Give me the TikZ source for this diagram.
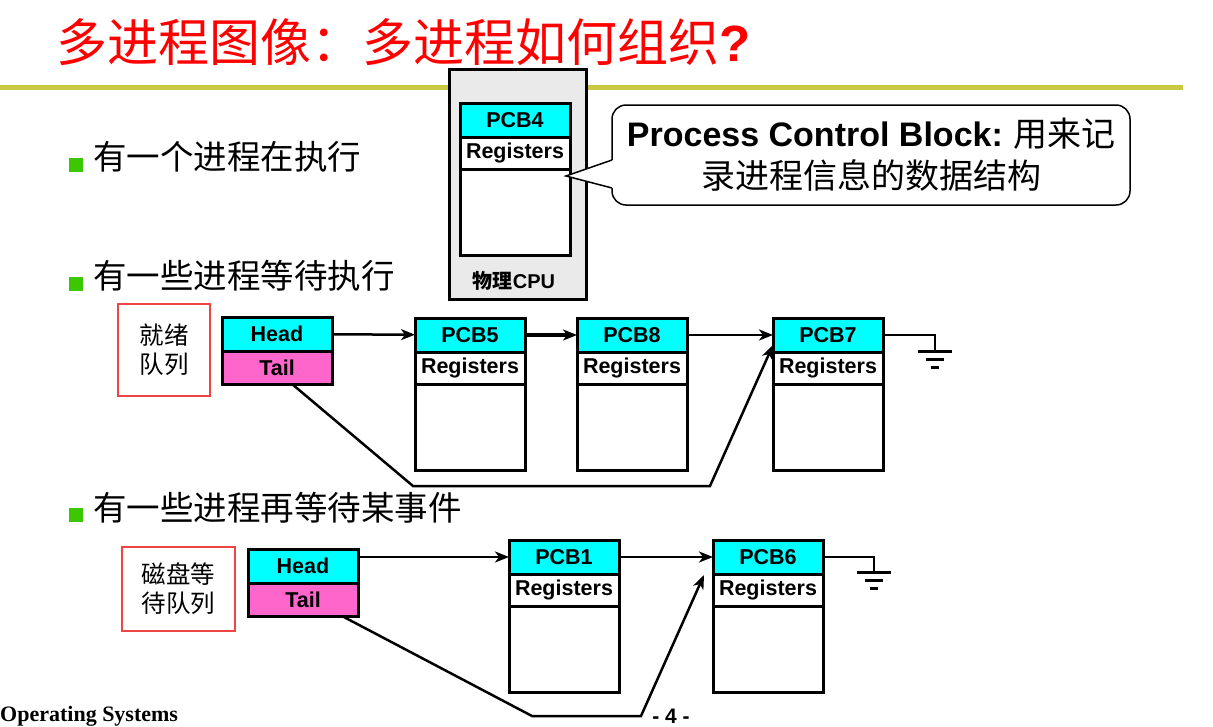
\documentclass[tikz,border=0pt]{standalone}
\usepackage{fontspec}
\usetikzlibrary{positioning,arrows.meta}
\newfontfamily\cjk{Noto Sans CJK SC}
\newfontfamily\pcbfont{Liberation Sans}
\newfontfamily\footfont{Liberation Serif}
\definecolor{pcbcyan}{RGB}{0,255,255}
\definecolor{tailpink}{RGB}{255,102,204}
\definecolor{cpugray}{RGB}{234,234,234}
\definecolor{rulegold}{RGB}{200,200,66}
\definecolor{bulletgreen}{RGB}{60,200,0}
\definecolor{labelred}{RGB}{238,68,68}
\tikzset{
  cell/.style={draw, line width=3pt, outer sep=0pt, inner sep=0pt, minimum width=110pt,
    font=\pcbfont\bfseries\fontsize{21.5}{21.5}\selectfont},
  pcbhead/.style={cell, fill=pcbcyan, minimum height=34pt},
  pcbreg/.style={cell, fill=white, minimum height=32pt},
  pcbbody/.style={cell, fill=white, minimum height=86pt},
  qtail/.style={cell, fill=tailpink, minimum height=33pt},
  link/.style={line width=2.5pt, -{Stealth[length=14pt,width=11pt,inset=4pt]}},
  wire/.style={line width=2.5pt},
  qlabel/.style={draw=labelred, line width=2pt, inner sep=0pt, align=center,
    font=\cjk\fontsize{24.5}{29}\selectfont},
  itemtext/.style={anchor=west, inner sep=0pt, font=\cjk\fontsize{33.5}{33.5}\selectfont},
  itemsq/.style={fill=bulletgreen, minimum size=14pt, inner sep=0pt},
}
% one PCB: name:label, top left corner
\def\pcbstack(#1:#2)(#3){
  \node[pcbhead, anchor=north west] (#1) at (#3) {#2};
  \node[pcbreg, below=0pt of #1] (#1reg) {Registers};
  \node[pcbbody, below=0pt of #1reg] (#1body) {};
}
% queue header: name, top left corner
\def\qstack(#1)(#2){
  \node[pcbhead, anchor=north west] (#1) at (#2) {Head};
  \node[qtail, below=0pt of #1] (#1tail) {Tail};
}
\def\ground(#1){
  \draw[line width=3pt] (#1) ++(-17,0) -- ++(34,0) (#1) ++(-9,8) -- ++(18,0) (#1) ++(-4,16) -- ++(8,0);
}

\begin{document}
\begin{tikzpicture}[x=1pt,y=-1pt]
  \useasboundingbox (0,0) rectangle (1213,726);

  %%%%% title %%%%%
  \node[anchor=west, inner sep=0pt, text=red, font=\cjk\fontsize{51}{51}\selectfont] (title) at (56,42) {多进程图像：多进程如何组织{\pcbfont\bfseries ?}};
  \draw[rulegold, line width=5pt] (0,87) -- (1183,87);

  %%%%% CPU %%%%%
  \node[draw, fill=cpugray, line width=3pt, anchor=north west, minimum width=137pt, minimum height=230pt] (cpu) at (448,68) {};
  \pcbstack(pcbfour:PCB4)(460,103)
  \node[font=\cjk\bfseries\fontsize{20}{20}\selectfont] (cpulabel) at (514,281) {物理{\pcbfont CPU}};

  %%%%% callout %%%%%
  \node[draw, fill=white, line width=1.5pt, rounded corners=14pt, minimum width=518pt, minimum height=100pt, align=center,
    inner sep=0pt, font=\cjk\fontsize{34}{42}\selectfont] (note) at (871,155)
    {{\pcbfont\bfseries Process Control Block:} 用来记\\录进程信息的数据结构};
  \coordinate (ptrtop) at (612,160);
  \coordinate (ptrbot) at (612,188);
  \coordinate (ptrtip) at (566,176);
  \fill[white] (ptrtop) -- (ptrtip) -- (ptrbot) -- ([xshift=3pt]ptrbot) -- ([xshift=3pt]ptrtop) -- cycle;
  \draw[line width=1.5pt] (ptrtop) -- (ptrtip) -- (ptrbot);

  %%%%% items %%%%%
  \node[itemsq] (sqrun) at (76,165) {};
  \node[itemtext] (itemrun) at (93,157) {有一个进程在执行};
  \node[itemsq] (sqready) at (76,284) {};
  \node[itemtext] (itemready) at (93,276) {有一些进程等待执行};
  \node[itemsq] (sqwait) at (76,515) {};
  \node[itemtext] (itemwait) at (93,508) {有一些进程再等待某事件};

  %%%%% ready queue %%%%%
  \node[qlabel, minimum width=92pt, minimum height=92pt] (readyq) at (164,350) {就绪\\队列};
  \qstack(hready)(222,317)
  \pcbstack(pcbfive:PCB5)(415,318)
  \pcbstack(pcbeight:PCB8)(577,318)
  \pcbstack(pcbseven:PCB7)(773,318)

  \draw[link] (hready) -- (pcbfive);
  \draw[link, line width=3.5pt] (pcbfive) -- (pcbeight);
  \draw[link] (pcbeight) -- (pcbseven);
  \coordinate (gndready) at (935,351);
  \draw[wire] (pcbseven.east) -| (gndready);
  \ground(gndready)
  \coordinate (bendra) at (413,486);
  \coordinate (bendrb) at (710,486);
  \draw[link] ([xshift=15pt]hreadytail.south) -- (bendra) -- (bendrb) -- ([yshift=7pt]pcbseven.south west);

  %%%%% disk queue %%%%%
  \node[qlabel, minimum width=113pt, minimum height=84pt] (diskq) at (178.5,589) {磁盘等\\待队列};
  \qstack(hdisk)(248,549)
  \pcbstack(pcbone:PCB1)(509,540)
  \pcbstack(pcbsix:PCB6)(713,540)

  \draw[link] (hdisk.east |- pcbone.west) -- (pcbone);
  \draw[link] (pcbone) -- (pcbsix);
  \coordinate (gnddisk) at (874,572);
  \draw[wire] (pcbsix.east) -| (gnddisk);
  \ground(gnddisk)
  \coordinate (bendda) at (532,716);
  \coordinate (benddb) at (641,716);
  \draw[link] ([xshift=39pt]hdisktail.south) -- (bendda) -- (benddb) -- ([xshift=-9pt,yshift=-1pt]pcbsix.south west);

  %%%%% footer %%%%%
  \node[anchor=base west, inner sep=0pt, font=\footfont\bfseries\fontsize{22}{22}\selectfont] (footos) at (0,721) {Operating Systems};
  \node[inner sep=0pt, font=\pcbfont\bfseries\fontsize{21}{21}\selectfont] (pageno) at (671,716) {- 4 -};
\end{tikzpicture}
\end{document}
